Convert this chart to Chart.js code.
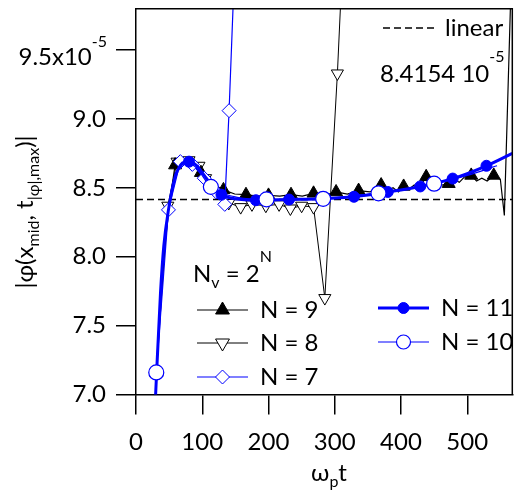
<!DOCTYPE html>
<html lang="en">
<head>
  <meta charset="UTF-8">
  <title>|phi| max vs omega_p t</title>
  <script src="https://cdn.jsdelivr.net/npm/chart.js"></script>
  <style>
    html, body { margin: 0; padding: 0; background: #fff; }
  </style>
</head>
<body>
  <canvas id="phiChart" width="521" height="493"></canvas>

  <script>
    // x is omega_p t, y is |phi| in units of 1e-5
    const linearX = [0, 568];
    const linearY = [8.4154, 8.4154];

    // N = 11 (thick blue line, filled circles)
    const n11X = [22, 30, 37, 42, 49, 59, 69, 80, 92, 103, 114, 129, 150, 181, 231, 280, 329, 380, 429, 478, 529, 568];
    const n11Y = [6.2, 7.04, 7.74, 8.08, 8.34, 8.58, 8.67, 8.69, 8.66, 8.59, 8.52, 8.45, 8.42, 8.41, 8.415, 8.42, 8.435, 8.47, 8.51, 8.567, 8.66, 8.75];
    const n11MarkX = [80, 129, 181, 231, 280, 329, 380, 429, 478, 529];
    const n11MarkY = [8.69, 8.45, 8.41, 8.415, 8.42, 8.435, 8.47, 8.51, 8.567, 8.66];

    // N = 10 (thin blue line, open circles)
    const n10X = [30.6, 40, 50, 60, 72, 90, 113, 155, 197, 240, 282, 324, 366, 408, 450, 500, 545];
    const n10Y = [7.16, 7.95, 8.38, 8.6, 8.69, 8.65, 8.507, 8.43, 8.416, 8.415, 8.42, 8.44, 8.46, 8.49, 8.53, 8.59, 8.66];
    const n10MarkX = [30.6, 113, 197, 282.5, 366, 450];
    const n10MarkY = [7.16, 8.507, 8.416, 8.42, 8.46, 8.53];

    // N = 9 (black line, filled triangles)
    const n9X = [30.6, 40, 50, 59, 80, 98, 115, 132, 149, 166, 183, 200, 217, 234, 251, 268, 285, 302, 319, 336, 353, 370, 380, 388, 396, 404, 412, 420, 428, 438, 446, 454, 462, 472, 480, 488, 496, 506, 514, 522, 530, 540, 550, 556, 566];
    const n9Y = [7.16, 7.9, 8.37, 8.665, 8.69, 8.61, 8.53, 8.485, 8.455, 8.45, 8.44, 8.445, 8.44, 8.45, 8.44, 8.46, 8.445, 8.47, 8.455, 8.48, 8.47, 8.52, 8.48, 8.5, 8.47, 8.51, 8.49, 8.52, 8.5, 8.58, 8.53, 8.56, 8.52, 8.53, 8.56, 8.54, 8.58, 8.59, 8.55, 8.57, 8.55, 8.59, 8.56, 8.3, 9.95];
    const n9MarkX = [30.6, 59, 98, 132, 166, 200, 234, 268, 302, 336, 370, 404, 438, 472, 506, 540];
    const n9MarkY = [7.16, 8.665, 8.61, 8.485, 8.45, 8.445, 8.45, 8.46, 8.47, 8.48, 8.52, 8.51, 8.58, 8.53, 8.59, 8.59];

    // N = 8 (black line, open down triangles)
    const n8X = [30.6, 48, 62, 80, 95, 105, 122, 140, 158, 175, 196, 216, 233, 250, 268, 285, 304, 318];
    const n8Y = [7.16, 8.37, 8.69, 8.7, 8.66, 8.57, 8.47, 8.39, 8.36, 8.38, 8.37, 8.38, 8.35, 8.37, 8.36, 7.7, 9.33, 10.8];

    // N = 7 (blue line, open diamonds)
    const n7X = [30.6, 49, 67, 85, 103, 121, 134, 140.5, 150];
    const n7Y = [7.16, 8.34, 8.69, 8.67, 8.57, 8.47, 8.38, 9.06, 10.25];

    const BLUE = '#0000ff';
    const FONT = 'Lato, "DejaVu Sans", sans-serif';

    function pts(xs, ys) {
      return xs.map((x, i) => ({ x: x, y: ys[i] }));
    }

    // draw a run of text pieces (sub/superscripts), returns width
    function richText(ctx, segs, x, y, align) {
      let w = 0;
      segs.forEach(s => { ctx.font = s.size + 'px ' + FONT; w += ctx.measureText(s.t).width; });
      let cx = align === 'center' ? x - w / 2 : (align === 'right' ? x - w : x);
      ctx.textAlign = 'left';
      ctx.textBaseline = 'alphabetic';
      segs.forEach(s => {
        ctx.font = s.size + 'px ' + FONT;
        ctx.fillText(s.t, cx, y + (s.dy || 0));
        cx += ctx.measureText(s.t).width;
      });
      return w;
    }

    const extras = {
      id: 'extras',
      afterDraw(chart) {
        const ctx = chart.ctx;
        const a = chart.chartArea;
        const ys = chart.scales.y;
        ctx.save();
        ctx.fillStyle = '#000';
        ctx.strokeStyle = '#000';

        // top and right frame
        ctx.lineWidth = 1.5;
        ctx.beginPath();
        ctx.moveTo(a.left, a.top);
        ctx.lineTo(a.right, a.top);
        ctx.lineTo(a.right, a.bottom);
        ctx.stroke();

        // 9.5x10^-5 tick label
        const p95 = ys.getPixelForValue(9.5);
        richText(ctx, [{ t: '9.5x10', size: 24 }, { t: '-5', size: 16, dy: -18 }], 107, p95 + 15, 'right');

        // y title
        ctx.save();
        ctx.translate(33, 212);
        ctx.rotate(-Math.PI / 2);
        richText(ctx, [
          { t: '|\u03c6(x', size: 24 }, { t: 'mid', size: 16, dy: 6 },
          { t: ', t', size: 24 }, { t: '|\u03c6|,max', size: 16, dy: 6 },
          { t: ')|', size: 24 }
        ], 0, 0, 'center');
        ctx.restore();

        // x title
        richText(ctx, [{ t: '\u03c9', size: 24 }, { t: 'p', size: 16, dy: 6 }, { t: 't', size: 24 }], 329, 481, 'center');

        // linear key
        ctx.lineWidth = 1.5;
        ctx.setLineDash([7, 4]);
        ctx.beginPath();
        ctx.moveTo(383, 28);
        ctx.lineTo(436, 28);
        ctx.stroke();
        ctx.setLineDash([]);
        richText(ctx, [{ t: 'linear', size: 24 }], 445, 36, 'left');
        richText(ctx, [{ t: '8.4154 10', size: 24 }, { t: '-5', size: 16, dy: -20 }], 380, 82, 'left');

        // N_v = 2^N
        richText(ctx, [{ t: 'N', size: 24 }, { t: 'v', size: 16, dy: 6 }, { t: ' = 2', size: 24 }, { t: 'N', size: 16, dy: -20 }], 193, 282, 'left');

        // legend rows
        const rows = [
          { x: 197, y: 310, label: 'N = 9', color: '#000', lw: 1.2, pt: { pointStyle: 'triangle', radius: 8, rotation: 0, borderWidth: 1 }, fill: '#000' },
          { x: 197, y: 343, label: 'N = 8', color: '#000', lw: 1, pt: { pointStyle: 'triangle', radius: 8, rotation: 180, borderWidth: 1 }, fill: '#fff' },
          { x: 197, y: 377, label: 'N = 7', color: BLUE, lw: 1.2, pt: { pointStyle: 'rectRot', radius: 7, rotation: 0, borderWidth: 1 }, fill: '#fff' },
          { x: 378, y: 308, label: 'N = 11', color: BLUE, lw: 3, pt: { pointStyle: 'circle', radius: 5.5, rotation: 0, borderWidth: 1 }, fill: BLUE },
          { x: 378, y: 342, label: 'N = 10', color: BLUE, lw: 1.2, pt: { pointStyle: 'circle', radius: 7, rotation: 0, borderWidth: 1.2 }, fill: '#fff' }
        ];
        rows.forEach(r => {
          ctx.strokeStyle = r.color;
          ctx.lineWidth = r.lw;
          ctx.beginPath();
          ctx.moveTo(r.x, r.y);
          ctx.lineTo(r.x + 51, r.y);
          ctx.stroke();
          ctx.lineWidth = r.pt.borderWidth;
          ctx.fillStyle = r.fill;
          Chart.helpers.drawPoint(ctx, r.pt, r.x + 25.5, r.y);
          ctx.fillStyle = '#000';
          richText(ctx, [{ t: r.label, size: 24 }], r.x + 63, r.y + 8, 'left');
        });
        ctx.restore();
      }
    };

    const ctx = document.getElementById('phiChart').getContext('2d');
    const phiChart = new Chart(ctx, {
      type: 'line',
      data: {
        datasets: [
          { data: pts(n10MarkX, n10MarkY), showLine: false, pointStyle: 'circle', pointRadius: 7.5,
            pointBackgroundColor: '#fff', pointBorderColor: BLUE, pointBorderWidth: 1.2 },
          { data: pts(n10X, n10Y), borderColor: BLUE, borderWidth: 1.2, pointRadius: 0, cubicInterpolationMode: 'monotone' },
          { data: pts(n11MarkX, n11MarkY), showLine: false, pointStyle: 'circle', pointRadius: 5.5,
            pointBackgroundColor: BLUE, pointBorderColor: BLUE, pointBorderWidth: 1 },
          { data: pts(n11X, n11Y), borderColor: BLUE, borderWidth: 3, pointRadius: 0, cubicInterpolationMode: 'monotone' },
          { data: pts(n7X, n7Y), borderColor: BLUE, borderWidth: 1.2, pointStyle: 'rectRot', pointRadius: 7,
            pointBackgroundColor: '#fff', pointBorderColor: BLUE, pointBorderWidth: 1 },
          { data: pts(n9MarkX, n9MarkY), showLine: false, pointStyle: 'triangle', pointRadius: 7.5,
            pointBackgroundColor: '#000', pointBorderColor: '#000', pointBorderWidth: 1 },
          { data: pts(n9X, n9Y), borderColor: '#000', borderWidth: 1.2, pointRadius: 0 },
          { data: pts(n8X, n8Y), borderColor: '#000', borderWidth: 1, pointStyle: 'triangle', pointRotation: 180, pointRadius: 7,
            pointBackgroundColor: '#fff', pointBorderColor: '#000', pointBorderWidth: 1 },
          { data: pts(linearX, linearY), borderColor: '#000', borderWidth: 1.5, borderDash: [7, 4], pointRadius: 0 }
        ]
      },
      options: {
        responsive: false,
        animation: false,
        events: [],
        clip: 0,
        layout: { padding: { top: 7, right: 2, left: 0, bottom: 0 } },
        plugins: { legend: { display: false }, tooltip: { enabled: false } },
        scales: {
          x: {
            type: 'linear', min: 0, max: 568,
            afterFit: s => { s.height = 98.5; s.paddingLeft = 0; s.paddingRight = 0; },
            ticks: { stepSize: 100, includeBounds: false, color: '#000', padding: 13, maxRotation: 0,
                     font: { family: FONT, size: 24 } },
            grid: { drawOnChartArea: false, tickLength: 20, color: '#000', lineWidth: 1.5 },
            border: { color: '#000', width: 1.5 }
          },
          y: {
            type: 'linear', min: 7, max: 9.8,
            afterFit: s => { s.width = 136; s.paddingTop = 0; s.paddingBottom = 0; },
            ticks: { stepSize: 0.5, includeBounds: false, color: '#000', padding: 10,
                     font: { family: FONT, size: 24 },
                     callback: v => (Math.abs(v - 9.5) < 1e-6 ? '' : v.toFixed(1)) },
            grid: { drawOnChartArea: false, tickLength: 20, color: '#000', lineWidth: 1.5 },
            border: { color: '#000', width: 1.5 }
          }
        }
      },
      plugins: [extras]
    });
  </script>
</body>
</html>
